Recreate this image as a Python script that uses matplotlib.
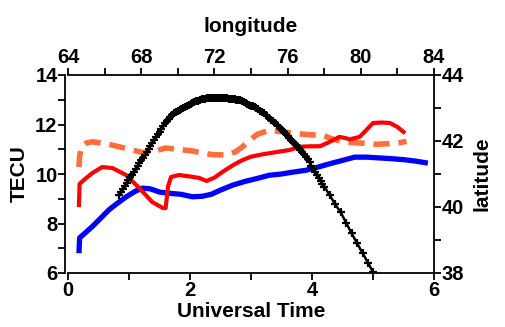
import matplotlib
matplotlib.use("Agg")
import matplotlib.pyplot as plt
from matplotlib.ticker import FixedLocator

plt.rcParams['font.family'] = ['Liberation Sans', 'DejaVu Sans']
plt.rcParams['font.weight'] = 'bold'

# Blue TEC series
blue_ut = [0.18, 0.19, 0.25, 0.4, 0.55, 0.67, 0.8, 0.95, 1.1, 1.22, 1.35, 1.5, 1.66, 1.85, 2.04, 2.2,
           2.35, 2.5, 2.7, 2.9, 3.1, 3.3, 3.5, 3.7, 3.9, 4.1, 4.3, 4.5, 4.7, 4.9, 5.1, 5.3, 5.5, 5.7, 5.9]
blue_tec = [6.8, 7.42, 7.55, 7.88, 8.25, 8.55, 8.8, 9.07, 9.3, 9.43, 9.4, 9.27, 9.22, 9.18, 9.08, 9.1,
            9.18, 9.35, 9.55, 9.7, 9.82, 9.95, 10.0, 10.08, 10.15, 10.28, 10.42, 10.55, 10.68, 10.68,
            10.65, 10.62, 10.58, 10.52, 10.44]

# Red TEC series
red_ut = [0.18, 0.19, 0.28, 0.4, 0.56, 0.73, 0.95, 1.17, 1.38, 1.55, 1.6, 1.64, 1.69, 1.82, 2.0, 2.15,
          2.27, 2.4, 2.53, 2.7, 2.85, 3.0, 3.2, 3.4, 3.63, 3.8, 3.96, 4.13, 4.29, 4.45, 4.55, 4.62, 4.78,
          4.9, 5.0, 5.15, 5.28, 5.4, 5.5]
red_tec = [8.75, 9.6, 9.8, 10.04, 10.28, 10.24, 9.96, 9.43, 8.87, 8.63, 8.62, 9.5, 9.88, 9.96, 9.9, 9.84,
           9.72, 9.85, 10.08, 10.35, 10.55, 10.7, 10.8, 10.88, 10.97, 11.1, 11.12, 11.12, 11.3, 11.5,
           11.45, 11.4, 11.5, 11.8, 12.06, 12.08, 12.06, 11.9, 11.7]

# Orange dashed TEC series
orange_ut = [0.18, 0.19, 0.22, 0.3, 0.4, 0.56, 0.7, 0.84, 1.0, 1.22, 1.38, 1.6, 1.8, 2.04, 2.2, 2.37,
             2.6, 2.75, 2.86, 3.0, 3.1, 3.3, 3.52, 3.8, 4.0, 4.18, 4.35, 4.57, 4.8, 5.06, 5.28, 5.45, 5.55]
orange_tec = [10.28, 10.7, 11.1, 11.25, 11.3, 11.25, 11.18, 11.1, 11.0, 10.87, 10.89, 11.05, 11.0, 10.93,
              10.85, 10.78, 10.77, 10.9, 11.1, 11.4, 11.6, 11.77, 11.7, 11.62, 11.58, 11.56, 11.4, 11.28,
              11.25, 11.2, 11.23, 11.27, 11.32]

# Black track: latitude vs longitude
track_lon = [66.8, 66.9, 67.0, 67.1, 67.2, 67.3, 67.4, 67.5, 67.6, 67.7, 67.8, 67.9, 68.0, 68.1, 68.2,
             68.3, 68.4, 68.5, 68.6, 68.7, 68.8, 68.9, 69.0, 69.1, 69.2, 69.3, 69.4, 69.5, 69.6, 69.7,
             69.8, 69.9, 70.0, 70.1, 70.2, 70.3, 70.4, 70.5, 70.6, 70.7, 70.8, 70.9, 71.0, 71.1, 71.2,
             71.3, 71.4, 71.5, 71.6, 71.7, 71.8, 71.9, 72.0, 72.1, 72.2, 72.3, 72.4, 72.5, 72.6, 72.7,
             72.8, 72.9, 73.0, 73.1, 73.2, 73.3, 73.4, 73.5, 73.6, 73.7, 73.8, 73.9, 74.0, 74.1, 74.2,
             74.3, 74.4, 74.5, 74.6, 74.7, 74.8, 74.9, 75.0, 75.1, 75.2, 75.3, 75.4, 75.5, 75.6, 75.7,
             75.8, 75.9, 76.0, 76.1, 76.2, 76.3, 76.4, 76.5, 76.6, 76.7, 76.8, 76.9, 77.0, 77.1, 77.2,
             77.3, 77.4, 77.5, 77.6, 77.7, 77.8, 77.9, 78.0, 78.3, 78.6, 78.9, 79.2, 79.5, 79.8, 80.1,
             80.4, 80.67]
track_lat = [40.36, 40.46, 40.55, 40.64, 40.73, 40.82, 40.90, 40.98, 41.06, 41.15, 41.24, 41.33, 41.41,
             41.50, 41.59, 41.68, 41.77, 41.86, 41.94, 42.03, 42.11, 42.20, 42.28, 42.37, 42.46, 42.54,
             42.62, 42.68, 42.74, 42.79, 42.84, 42.88, 42.92, 42.95, 42.98, 43.01, 43.04, 43.07, 43.10,
             43.13, 43.15, 43.18, 43.20, 43.22, 43.24, 43.26, 43.27, 43.28, 43.29, 43.30, 43.30, 43.30,
             43.30, 43.30, 43.30, 43.30, 43.30, 43.30, 43.29, 43.29, 43.28, 43.28, 43.27, 43.26, 43.25,
             43.24, 43.23, 43.21, 43.18, 43.15, 43.12, 43.10, 43.07, 43.05, 43.02, 42.99, 42.96, 42.92,
             42.88, 42.84, 42.80, 42.75, 42.70, 42.65, 42.60, 42.55, 42.49, 42.44, 42.38, 42.32, 42.26,
             42.20, 42.14, 42.09, 42.03, 41.97, 41.91, 41.86, 41.80, 41.74, 41.68, 41.60, 41.52, 41.44,
             41.35, 41.25, 41.15, 41.05, 40.96, 40.88, 40.80, 40.71, 40.62, 40.36, 40.08, 39.84, 39.52,
             39.20, 38.90, 38.60, 38.30, 38.03]

fig = plt.figure(figsize=(5.05, 3.27), dpi=100)
ax = fig.add_axes([68 / 505, 1 - 273 / 327, (434 - 68) / 505, (273 - 75) / 327])
ax2 = ax.twinx()
ax3 = ax2.twiny()

ax.plot(blue_ut, blue_tec, color='#0000ff', lw=3.8, solid_capstyle='butt', zorder=2)
ax.plot(orange_ut, orange_tec, color='#ff6f3c', lw=4.0, dashes=(2.9, 1.6), dash_capstyle='butt', zorder=3)
ax.plot(red_ut, red_tec, color='#ff0000', lw=3.0, zorder=4)
ax3.plot(track_lon, track_lat, color='black', lw=1.8, marker='+', ms=5.5, mew=1.6, zorder=5)

ax.set_xlim(0, 6)
ax.set_ylim(6, 14)
ax2.set_ylim(38, 44)
ax3.set_xlim(64, 84)

fs = 14.5
ax.xaxis.set_major_locator(FixedLocator([0, 2, 4, 6]))
ax.xaxis.set_minor_locator(FixedLocator([1, 3, 5]))
ax.yaxis.set_major_locator(FixedLocator([6, 8, 10, 12, 14]))
ax.yaxis.set_minor_locator(FixedLocator([7, 9, 11, 13]))
ax2.yaxis.set_major_locator(FixedLocator([38, 40, 42, 44]))
ax2.yaxis.set_minor_locator(FixedLocator([39, 41, 43]))
ax3.xaxis.set_major_locator(FixedLocator([64, 68, 72, 76, 80, 84]))
ax3.xaxis.set_minor_locator(FixedLocator([66, 70, 74, 78, 82]))

for a in (ax, ax2, ax3):
    a.tick_params(which='both', direction='out', length=5, width=1.3, labelsize=fs, pad=0.5)
    for s in a.spines.values():
        s.set_linewidth(1.3)

ax.spines['top'].set_visible(False)
ax.spines['right'].set_visible(False)
ax2.spines['top'].set_visible(False)
ax2.spines['left'].set_visible(False)
ax2.spines['bottom'].set_visible(False)
ax3.spines['left'].set_visible(False)
ax3.spines['right'].set_visible(False)
ax3.spines['bottom'].set_visible(False)
ax.spines['left'].set_position(('outward', 2))

ax.set_xlabel('Universal Time', fontsize=15, fontweight='bold', labelpad=2)
ax.set_ylabel('TECU', fontsize=15, fontweight='bold', labelpad=5)
ax2.set_ylabel('latitude', fontsize=15, fontweight='bold', labelpad=6)
ax3.set_xlabel('longitude', fontsize=15, fontweight='bold', labelpad=12)

fig.savefig('out.png', dpi=100)
